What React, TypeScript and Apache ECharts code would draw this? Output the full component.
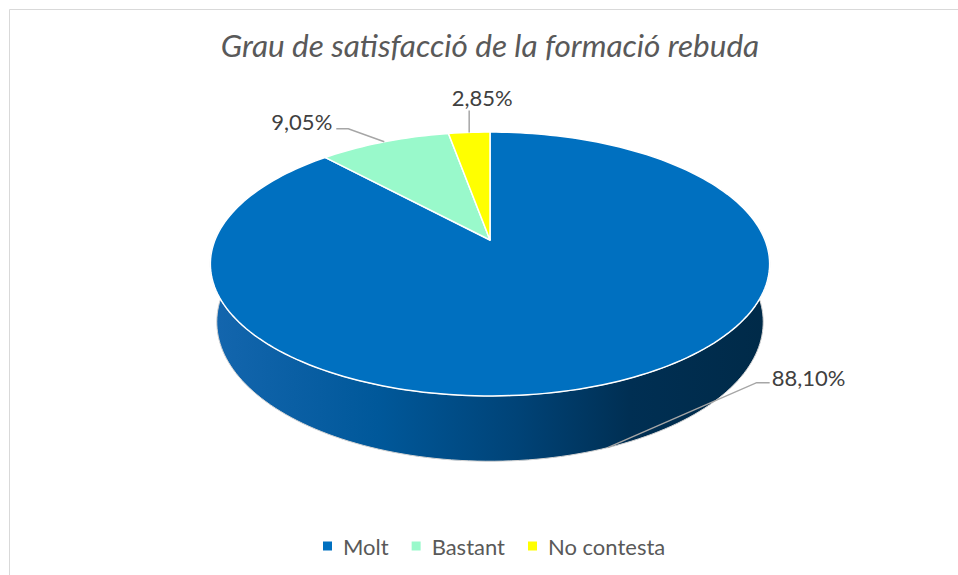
import React, { useEffect, useRef } from "react";
import * as echarts from "echarts";

const titleText = "Grau de satisfacció de la formació rebuda";
const categories = ["Molt", "Bastant", "No contesta"];
const values = [88.1, 9.05, 2.85];

// styles / geometry (not data)
const colors = ["#0070C0", "#99F9CB", "#FFFF00"];
const sideStops = [
  [
    { offset: 0, color: "#1466AE" },
    { offset: 0.3, color: "#00589A" },
    { offset: 0.55, color: "#004377" },
    { offset: 0.75, color: "#002F53" },
    { offset: 1, color: "#002A48" },
  ],
  [
    { offset: 0, color: "#6fd6a4" },
    { offset: 1, color: "#3c8a64" },
  ],
  [
    { offset: 0, color: "#d8d800" },
    { offset: 1, color: "#808000" },
  ],
];
const labelLayout = [
  { anchor: "bottom", path: [[149, -65], [162, -65]], text: [164, -70], align: "left" },
  { anchor: "top", path: [[-36, -13], [-48, -13]], text: [-52, -20], align: "right" },
  { anchor: "top", path: [[0, -22]], text: [13, -35], align: "center" },
];
const GEO = { cx: 490, cy: 240, r: 275, sin: 0.464, cos: 0.886, f: 1340, h: 66 };
const SIDE_FROM = (85 * Math.PI) / 180;
const SIDE_TO = (275 * Math.PI) / 180;

function proj(theta: number, y: number): number[] {
  const X = GEO.r * Math.sin(theta);
  const Z = GEO.r * Math.cos(theta);
  const yup = Z * GEO.sin + y * GEO.cos;
  const d = Z * GEO.cos - y * GEO.sin;
  const s = GEO.f / (GEO.f + d);
  return [GEO.cx + X * s, GEO.cy - yup * s];
}

function arc(a: number, b: number, y: number): number[][] {
  const n = Math.max(2, Math.ceil(((b - a) * 180) / Math.PI / 1.5));
  const pts: number[][] = [];
  for (let i = 0; i <= n; i++) pts.push(proj(a + ((b - a) * i) / n, y));
  return pts;
}

function fmt(v: number) {
  return v.toFixed(2).replace(".", ",") + "%";
}

function makeRenderItem(idx: number) {
  return (params: any, api: any) => {
    const total = values.reduce((s, v) => s + v, 0);
    const before = values.slice(0, idx).reduce((s, v) => s + v, 0);
    const v = api.value(0);
    const a = (before / total) * Math.PI * 2;
    const b = ((before + v) / total) * Math.PI * 2;
    const children: any[] = [];
    const sa = Math.max(a, SIDE_FROM);
    const sb = Math.min(b, SIDE_TO);
    if (sb > sa) {
      const pts = arc(sa, sb, 0).concat(arc(sa, sb, -GEO.h).reverse());
      children.push({
        type: "polygon",
        shape: { points: pts },
        style: {
          fill: new echarts.graphic.LinearGradient(210, 0, 770, 0, sideStops[idx], true),
          stroke: "#d4d4d4",
          lineWidth: 1,
        },
      });
    }
    const top = [[GEO.cx, GEO.cy]].concat(arc(a, b, 0));
    children.push({
      type: "polygon",
      shape: { points: top },
      style: { fill: colors[idx], stroke: "#ffffff", lineWidth: 1.5, lineJoin: "round" },
    });
    const mid = (a + b) / 2;
    const lay = labelLayout[idx];
    const anc = proj(mid, lay.anchor === "bottom" ? -GEO.h : 0);
    const line = [anc].concat(lay.path.map((p) => [anc[0] + p[0], anc[1] + p[1]]));
    children.push({
      type: "polyline",
      shape: { points: line },
      style: { stroke: "#a6a6a6", lineWidth: 1.5, fill: null },
      z2: 10,
    });
    children.push({
      type: "text",
      x: anc[0] + lay.text[0],
      y: anc[1] + lay.text[1],
      style: {
        text: fmt(v),
        fill: "#404040",
        font: "22px Lato",
        align: lay.align,
        verticalAlign: "middle",
      },
      z2: 11,
    });
    return { type: "group", children };
  };
}

export default function App() {
  const ref = useRef<HTMLDivElement>(null);
  useEffect(() => {
    document.body.style.margin = "0";
    const chart = echarts.init(ref.current!, null, { renderer: "svg" });
    chart.setOption({
      animation: false,
      backgroundColor: "#ffffff",
      title: {
        text: titleText,
        left: 485,
        textAlign: "center",
        top: 24,
        textStyle: {
          fontFamily: "Lato",
          fontStyle: "italic",
          fontWeight: "normal",
          fontSize: 31.5,
          color: "#595959",
        },
      },
      legend: {
        data: categories,
        left: 318,
        top: 530,
        icon: "rect",
        itemWidth: 9,
        itemHeight: 9,
        itemGap: 23,
        textStyle: { fontFamily: "Lato", fontSize: 22, color: "#595959", padding: [0, 0, 0, 6] },
      },
      graphic: [
        {
          type: "rect",
          shape: { x: 9.5, y: 9.5, width: 960, height: 580 },
          style: { fill: null, stroke: "#d9d9d9", lineWidth: 1 },
          silent: true,
        },
      ],
      series: categories.map((name, i) => ({
        type: "custom",
        name,
        coordinateSystem: "none",
        itemStyle: { color: colors[i] },
        renderItem: makeRenderItem(i),
        data: [[values[i]]],
      })),
    });
    return () => chart.dispose();
  }, []);
  return <div ref={ref} style={{ width: 958, height: 575 }} />;
}
